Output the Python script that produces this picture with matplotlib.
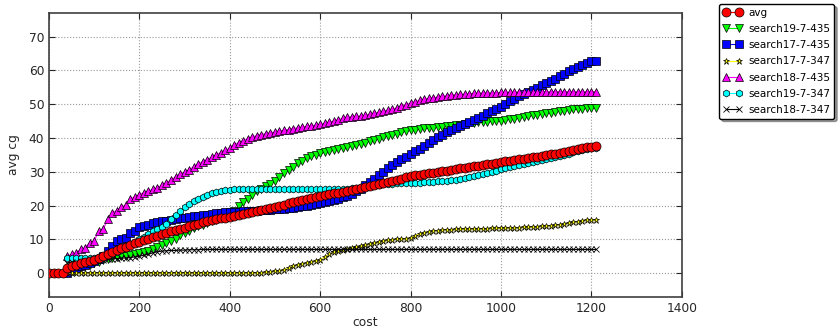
import matplotlib
matplotlib.use('Agg')
import matplotlib.pyplot as plt
import numpy as np

nan = np.nan

# cost samples, every 10 from 0 to 1210
cost = np.arange(0, 1220, 10)

avg = [0, 0, 0, 0, 1.5, 2, 2.5, 3, 3.2, 3.6,
       4, 4.5, 5, 5.6, 6.2, 6.8, 7.3, 7.8, 8.3, 8.8,
       9.3, 9.7, 10.1, 10.6, 11, 11.5, 12, 12.4, 12.8, 13.1,
       13.4, 13.8, 14.2, 14.6, 15, 15.3, 15.6, 15.9, 16.2, 16.4,
       16.6, 17, 17.3, 17.6, 17.9, 18.2, 18.5, 18.8, 19.1, 19.4,
       19.7, 20, 20.3, 20.6, 20.9, 21.2, 21.5, 21.8, 22.1, 22.4,
       22.7, 23, 23.3, 23.6, 23.8, 24, 24.3, 24.6, 24.9, 25.3,
       25.6, 25.9, 26.2, 26.5, 26.8, 27.1, 27.4, 27.7, 28, 28.3,
       28.6, 28.9, 29.1, 29.3, 29.5, 29.7, 29.9, 30.1, 30.3, 30.5,
       30.8, 31, 31.2, 31.4, 31.6, 31.8, 32, 32.2, 32.4, 32.6,
       32.9, 33.1, 33.3, 33.5, 33.7, 33.9, 34.1, 34.3, 34.5, 34.7,
       35, 35.2, 35.4, 35.6, 35.8, 36, 36.3, 36.6, 36.9, 37.2,
       37.4, 37.5]

s19_435 = [nan, nan, nan, nan, 0, 0.5, 1, 1.5, 2, 2.5,
           3, 3.4, 3.8, 4.1, 4.4, 4.7, 5, 5.2, 5.4, 5.6,
           5.8, 6.2, 6.6, 7, 7.6, 8.2, 8.8, 9.5, 10.2, 11.2,
           12, 12.6, 13.2, 13.8, 14.3, 14.8, 15.3, 15.8, 16.3, 16.9,
           17.6, 18.5, 19.8, 21, 22, 23.2, 24.2, 25, 25.8, 26.5,
           27.2, 28.5, 29.6, 30.5, 31.5, 32.5, 33.3, 34, 34.6, 35.1,
           35.5, 35.8, 36.1, 36.4, 36.7, 37, 37.3, 37.5, 37.8, 38.2,
           38.6, 39, 39.4, 39.8, 40.2, 40.5, 40.9, 41.3, 41.7, 42,
           42.3, 42.5, 42.7, 42.9, 43, 43.1, 43.2, 43.3, 43.4, 43.5,
           43.7, 43.9, 44.1, 44.3, 44.5, 44.6, 44.7, 44.8, 44.9, 45,
           45.1, 45.3, 45.5, 45.7, 45.9, 46.1, 46.4, 46.7, 46.9, 47.1,
           47.3, 47.5, 47.7, 47.9, 48.1, 48.3, 48.5, 48.6, 48.7, 48.8,
           48.9, 49]

s17_435 = [nan, nan, nan, nan, 0, 1, 1.5, 2, 2.5, 3,
           3.5, 4.2, 5.2, 6.5, 8, 9.5, 10, 10.5, 11.8, 12.5,
           13.5, 14, 14.3, 14.7, 15, 15.3, 15.5, 15.8, 16, 16.2,
           16.4, 16.6, 16.8, 17, 17.1, 17.3, 17.5, 17.7, 17.9, 18,
           18.1, 18.2, 18.2, 18.3, 18.3, 18.4, 18.5, 18.6, 18.7, 18.8,
           18.9, 19, 19.1, 19.2, 19.4, 19.6, 19.8, 20, 20.2, 20.5,
           20.8, 21.1, 21.3, 21.6, 22, 22.4, 22.9, 23.5, 24.2, 25,
           26, 27, 28, 29, 30, 31, 32, 33, 33.8, 34.5,
           35.2, 36, 36.8, 37.6, 38.5, 39.3, 40.2, 41, 41.7, 42.4,
           43, 43.6, 44.2, 44.8, 45.4, 46, 46.6, 47.3, 48, 48.7,
           49.3, 50, 50.8, 51.6, 52.3, 53, 53.6, 54.2, 54.9, 55.6,
           56.3, 57, 57.6, 58.3, 59, 59.7, 60.3, 61, 61.7, 62.3,
           62.8, 62.9]

s17_347 = [nan, nan, nan, nan, 0, 0, 0, 0, 0, 0,
           0, 0, 0, 0, 0, 0, 0, 0, 0, 0,
           0, 0, 0, 0, 0, 0, 0, 0, 0, 0,
           0, 0, 0, 0, 0, 0, 0, 0, 0, 0,
           0, 0, 0, 0, 0, 0, 0, 0, 0.2, 0.3,
           0.5, 0.7, 1, 1.5, 2, 2.5, 2.8, 3, 3.3, 3.6,
           4, 4.7, 5.5, 6.2, 6.6, 6.9, 7.1, 7.3, 7.6, 7.9,
           8.2, 8.5, 8.8, 9.1, 9.4, 9.7, 9.9, 10, 10.1, 10.2,
           10.4, 11, 11.6, 12, 12.3, 12.5, 12.6, 12.7, 12.8, 12.8,
           12.9, 12.9, 13, 13, 13, 13.1, 13.1, 13.1, 13.2, 13.2,
           13.2, 13.3, 13.3, 13.4, 13.4, 13.5, 13.5, 13.6, 13.7, 13.8,
           13.9, 14, 14.1, 14.3, 14.5, 14.8, 15, 15.2, 15.5, 15.7,
           15.7, 15.6]

s18_435 = [nan, nan, nan, nan, 5, 5.5, 6, 7, 7.5, 9,
           9.5, 12.5, 13, 16, 17.8, 18.5, 19.5, 20.2, 22, 22.5,
           23.2, 23.8, 24.3, 24.8, 25.2, 26, 26.8, 27.5, 28.5, 29.2,
           29.8, 30.6, 31.4, 32.2, 33, 33.6, 34.3, 35, 35.6, 36.3,
           37, 38, 38.6, 39.2, 39.8, 40.3, 40.7, 41, 41.3, 41.5,
           41.8, 42, 42.3, 42.5, 42.8, 43, 43.2, 43.4, 43.6, 43.8,
           44, 44.3, 44.6, 45, 45.4, 45.8, 46.1, 46.3, 46.4, 46.5,
           46.7, 47, 47.3, 47.6, 47.9, 48.2, 48.5, 48.9, 49.4, 49.9,
           50.3, 50.7, 51.1, 51.4, 51.7, 51.9, 52.1, 52.3, 52.5, 52.7,
           52.8, 52.9, 53, 53.1, 53.2, 53.2, 53.3, 53.3, 53.4, 53.4,
           53.5, 53.5, 53.5, 53.5, 53.6, 53.6, 53.6, 53.6, 53.6, 53.6,
           53.7, 53.7, 53.7, 53.7, 53.7, 53.7, 53.7, 53.7, 53.7, 53.7,
           53.7, 53.7]

s19_347 = [nan, nan, nan, nan, 4.5, 4.5, 4.5, 4.5, 4.5, 4.5,
           4.6, 4.8, 5, 5.3, 5.7, 6.2, 6.8, 7.5, 8.3, 9.2,
           10, 10.8, 11.6, 12.4, 13, 13.5, 14.5, 16, 17.2, 18.3,
           19.5, 20.5, 21.3, 22, 22.6, 23.2, 23.7, 24.1, 24.4, 24.6,
           24.7, 24.8, 24.9, 25, 25, 25, 25, 25, 25, 25,
           25, 25, 25, 25, 25, 25, 25, 25, 25, 25,
           25, 25, 25, 25, 25, 25, 25, 25.1, 25.3, 25.5,
           25.7, 25.9, 26.1, 26.2, 26.3, 26.4, 26.5, 26.6, 26.6, 26.6,
           26.6, 26.7, 26.8, 26.9, 27, 27.1, 27.2, 27.3, 27.4, 27.5,
           27.7, 27.9, 28.1, 28.4, 28.7, 29, 29.3, 29.6, 29.9, 30.3,
           30.7, 31.1, 31.5, 31.8, 32.1, 32.4, 32.7, 33, 33.3, 33.6,
           33.9, 34.2, 34.5, 34.8, 35.1, 35.4, 35.7, 36, 36.3, 36.6,
           36.9, 37]

s18_347 = [nan, nan, nan, nan, 3, 3.2, 3.4, 3.5, 3.6, 3.7,
           3.8, 3.9, 4, 4.1, 4.2, 4.3, 4.4, 4.5, 4.6, 4.8,
           5, 5.3, 5.6, 6, 6.3, 6.5, 6.6, 6.7, 6.7, 6.8,
           6.8, 6.9, 6.9, 6.9, 7, 7, 7, 7, 7, 7,
           7, 7, 7, 7, 7, 7, 7, 7, 7, 7,
           7, 7, 7, 7, 7, 7, 7, 7, 7, 7,
           7, 7, 7, 7, 7, 7, 7, 7, 7, 7,
           7, 7, 7, 7, 7, 7, 7, 7, 7, 7,
           7, 7, 7, 7, 7, 7, 7, 7, 7, 7,
           7, 7, 7, 7, 7, 7, 7, 7, 7, 7,
           7, 7, 7, 7, 7, 7, 7, 7, 7, 7,
           7, 7, 7, 7, 7, 7, 7, 7, 7, 7,
           7, 7]

fig = plt.figure(figsize=(8.39, 3.32), dpi=100)
ax = fig.add_axes([0.0584, 0.1063, 0.7541, 0.8545])

kw = dict(linewidth=0.8, markeredgecolor='k', markeredgewidth=0.5)
l_avg, = ax.plot(cost, avg, 'o-', color='#ff0000', markersize=6.5, label='avg',
                 zorder=10, **kw)
l1, = ax.plot(cost, s19_435, 'v-', color='#00ff00', markersize=6,
              label='search19-7-435', **kw)
l2, = ax.plot(cost, s17_435, 's-', color='#0000ff', markersize=6,
              label='search17-7-435', **kw)
l3, = ax.plot(cost, s17_347, '*-', color='#ffff00', markersize=5,
              label='search17-7-347', **kw)
l4, = ax.plot(cost, s18_435, '^-', color='#ff00ff', markersize=6,
              label='search18-7-435', **kw)
l5, = ax.plot(cost, s19_347, 'h-', color='#00ffff', markersize=5,
              label='search19-7-347', **kw)
l6, = ax.plot(cost, s18_347, 'x-', color='k', markersize=4.5,
              label='search18-7-347', linewidth=0.8, markeredgewidth=0.6)

ax.set_xlim(0, 1400)
ax.set_ylim(-7, 77)
ax.set_xticks(np.arange(0, 1401, 200))
ax.set_yticks(np.arange(0, 71, 10))
ax.grid(True, color='0.6', linestyle=':', linewidth=0.8)
ax.tick_params(direction='in', top=True, right=True, labelsize=8.8,
               length=4, width=0.8, pad=3.5, colors='0.15')
for sp in ax.spines.values():
    sp.set_linewidth(1.2)
    sp.set_color('0.25')

ax.set_xlabel('cost', fontsize=8.8, color='0.15', labelpad=1)
ax.set_ylabel('avg cg', fontsize=8.8, color='0.15', labelpad=6)

ax.legend(handles=[l_avg, l1, l2, l3, l4, l5, l6],
          loc='upper left', bbox_to_anchor=(1.059, 1.032), borderaxespad=0,
          fontsize=7.5, shadow=True, fancybox=True, numpoints=2,
          handlelength=1.9, handletextpad=0.6, borderpad=0.35,
          labelspacing=0.6, edgecolor='k', framealpha=1)

fig.savefig('out.png', dpi=100)
